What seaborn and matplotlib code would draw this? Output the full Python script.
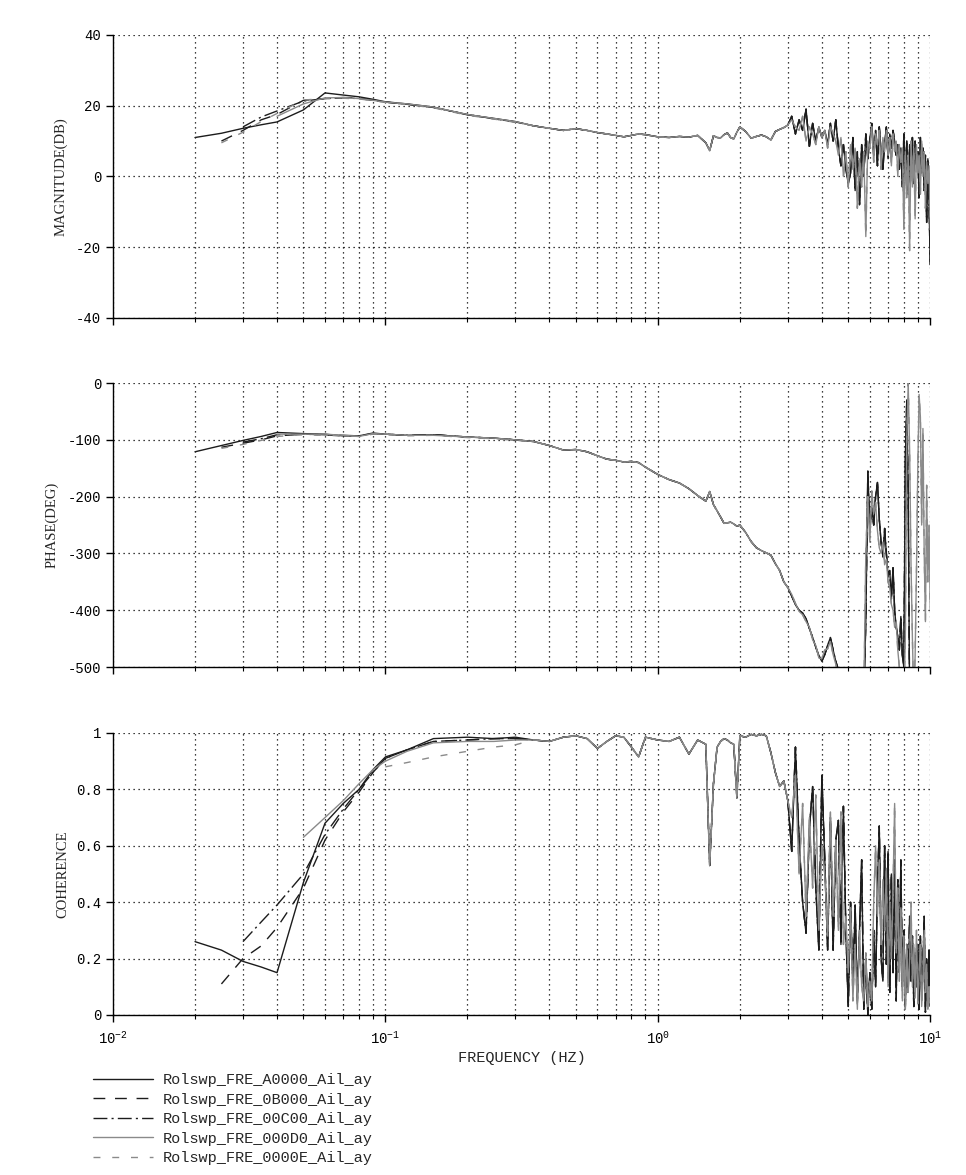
import numpy as np
import pandas as pd
import matplotlib
matplotlib.use('Agg')
import matplotlib.pyplot as plt
from matplotlib.ticker import LogLocator
import seaborn as sns

nan = np.nan

series_names = ['Rolswp_FRE_A0000_Ail_ay', 'Rolswp_FRE_0B000_Ail_ay',
                'Rolswp_FRE_00C00_Ail_ay', 'Rolswp_FRE_000D0_Ail_ay',
                'Rolswp_FRE_0000E_Ail_ay']

# low frequency part, one curve per run
f_lo = [0.02, 0.025, 0.03, 0.035, 0.04, 0.05, 0.06, 0.07, 0.08, 0.09,
        0.1, 0.12, 0.15, 0.2, 0.25, 0.3]

mag_lo_a = [11.0, 12.2, 13.6, 14.6, 15.4, 18.8, 23.6, 23.0, 22.5, 21.8, 21.1, 20.5, 19.6, 17.4, 16.4, 15.5]
mag_lo_b = [nan, 10.0, 13.0, 16.0, 17.5, 21.5, 22.0, 22.3, 22.2, 21.6, 21.0, 20.4, 19.5, 17.5, 16.3, 15.4]
mag_lo_c = [nan, nan, 14.0, 16.8, 18.5, 21.3, 22.0, 22.2, 22.0, 21.5, 21.0, 20.4, 19.5, 17.5, 16.3, 15.4]
mag_lo_d = [nan, nan, nan, nan, 17.0, 20.5, 22.2, 22.3, 22.0, 21.5, 21.0, 20.5, 19.6, 17.5, 16.4, 15.5]
mag_lo_e = [nan, 9.5, 12.5, 15.5, 17.8, 21.6, 22.0, 22.1, 21.9, 21.4, 20.9, 20.3, 19.4, 17.3, 16.2, 15.3]

ph_lo_a = [-121, -110, -101, -94, -87, -89, -90, -93, -93, -88, -90, -92, -91, -95, -97, -100]
ph_lo_b = [nan, -113, -106, -100, -93, -90, -91, -93, -93, -89, -90, -92, -91, -95, -97, -100]
ph_lo_c = [nan, nan, -104, -98, -91, -90, -91, -92, -93, -89, -90, -92, -91, -95, -97, -100]
ph_lo_d = [nan, nan, nan, nan, -90, -90, -90, -92, -94, -89, -90, -92, -92, -95, -97, -100]
ph_lo_e = [nan, -115, -108, -101, -94, -91, -92, -93, -94, -90, -91, -93, -92, -96, -98, -101]

coh_lo_a = [0.26, 0.23, 0.19, 0.17, 0.15, 0.47, 0.68, 0.75, 0.80, 0.87, 0.915, 0.94, 0.98, 0.985, 0.98, 0.985]
coh_lo_b = [nan, 0.11, 0.20, 0.245, 0.31, 0.45, 0.62, 0.72, 0.79, 0.86, 0.91, 0.94, 0.97, 0.975, 0.98, 0.98]
coh_lo_c = [nan, nan, 0.26, 0.33, 0.39, 0.50, 0.64, 0.73, 0.80, 0.86, 0.91, 0.94, 0.97, 0.975, 0.98, 0.98]
coh_lo_d = [nan, nan, nan, nan, nan, 0.63, 0.70, 0.76, 0.82, 0.87, 0.90, 0.935, 0.965, 0.97, 0.97, 0.975]
coh_lo_e = [nan, nan, nan, nan, nan, nan, nan, nan, nan, nan, 0.88, 0.895, 0.915, 0.935, 0.95, 0.958]

# mid band, all runs agree
f_mid = [0.35, 0.4, 0.45, 0.5, 0.55, 0.6, 0.65, 0.7, 0.75, 0.8, 0.85, 0.9, 1.0, 1.1, 1.2,
         1.3, 1.4, 1.5, 1.55, 1.6, 1.65, 1.7, 1.75, 1.8, 1.85, 1.9, 1.95, 2.0, 2.1, 2.2,
         2.3, 2.4, 2.5, 2.6, 2.7, 2.8, 2.9, 3.0]
mag_mid = [14.3, 13.6, 13.0, 13.5, 13.0, 12.4, 12.0, 11.6, 11.2, 11.6, 12.0, 11.8, 11.2, 11.0, 11.3,
           11.1, 11.6, 9.5, 7.3, 11.5, 11.0, 10.9, 11.8, 12.3, 11.0, 10.6, 12.5, 14.0, 12.7, 10.8,
           11.3, 11.7, 11.2, 10.3, 12.7, 13.3, 13.8, 14.5]
ph_mid = [-103, -110, -118, -117, -121, -128, -134, -136, -139, -138, -140, -148, -161, -170, -176,
          -186, -198, -208, -191, -214, -225, -236, -247, -246, -245, -248, -252, -250, -263, -279,
          -290, -295, -299, -303, -318, -330, -350, -360]
coh_mid = [0.975, 0.97, 0.985, 0.99, 0.98, 0.945, 0.97, 0.99, 0.985, 0.95, 0.915, 0.985, 0.975, 0.97, 0.985,
           0.925, 0.975, 0.96, 0.53, 0.82, 0.95, 0.97, 0.98, 0.975, 0.965, 0.96, 0.77, 0.99, 0.985, 0.995,
           0.99, 0.995, 0.99, 0.93, 0.86, 0.81, 0.83, 0.76]

# noisy high band: dark runs (A, B, C) and light runs (D, E)
f_hi = [3.1, 3.2, 3.3, 3.4, 3.5, 3.6, 3.7, 3.8, 3.9, 4.0,
        4.1, 4.2, 4.3, 4.4, 4.5, 4.6, 4.7, 4.8, 4.9, 5.0,
        5.1, 5.2, 5.3, 5.4, 5.5, 5.6, 5.7, 5.8, 5.9, 6.0,
        6.1, 6.2, 6.3, 6.4, 6.5, 6.6, 6.7, 6.8, 6.9, 7.0,
        7.1, 7.2, 7.3, 7.4, 7.5, 7.6, 7.7, 7.8, 7.9, 8.0,
        8.1, 8.2, 8.3, 8.4, 8.5, 8.6, 8.7, 8.8, 8.9, 9.0,
        9.1, 9.2, 9.3, 9.4, 9.5, 9.6, 9.7, 9.8, 9.9, 10.0]

mag_hi_dark = [17, 12, 16, 13, 19, 8.5, 15, 10, 14, 11,
               13, 9, 15, 10, 16, 8, 3, 9, 2, -2,
               1, 11, -4, 7, -8, 9, 0, 12, 5, 10,
               15, 6, 13, 3, 14, 7, 2, 9, 14, 5,
               12, 8, 13, 10, 6, 9, 2, 8, -3, 12,
               0, 10, -5, 9, 2, 11, -2, 10, 3, 7,
               -6, 11, 1, 8, -4, 6, -13, 5, -8, -25]
mag_hi_light = [16, 14, 13, 17, 10, 14, 12, 9, 14, 11,
                13, 8, 14, 12, 10, 6, 11, 0, 7, -3,
                9, 2, 8, -9, 5, -3, 7, -17, 10, 8,
                14, 4, 12, 9, 13, 2, 11, 7, 13, 6,
                11, 3, 12, 7, 10, 0, 9, 4, 8, -15,
                7, -6, 6, -21, 10, -3, 8, -12, 9, 1,
                6, -5, 10, 0, 7, -9, 4, -2, 3, -15]

ph_hi_dark = [-375, -390, -400, -405, -415, -432, -448, -465, -480, -490,
              -478, -462, -448, -470, -490, -505, -560, -560, -560, -560,
              -560, -560, -560, -560, -560, -560, -560, -420, -155, -260,
              -220, -250, -200, -175, -240, -280, -306, -256, -300, -340,
              -330, -380, -325, -400, -430, -446, -470, -411, -480, -500,
              -135, -30, -200, -560, -560, -560, -560, -560, -560, -560,
              -560, -560, -560, -560, -560, -560, -560, -560, -560, -560]
ph_hi_light = [-372, -388, -402, -408, -420, -430, -452, -462, -484, -485,
               -470, -468, -455, -478, -495, -515, -560, -560, -560, -560,
               -560, -560, -560, -560, -560, -560, -560, -300, -200, -280,
               -190, -230, -210, -260, -290, -300, -280, -320, -310, -350,
               -360, -390, -400, -430, -420, -470, -500, -520, -540, -560,
               -450, -100, 0, -120, -320, -450, -560, -480, -330, -150,
               -20, -60, -250, -80, -300, -420, -180, -350, -250, -400]

coh_hi_dark = [0.58, 0.95, 0.62, 0.40, 0.29, 0.66, 0.81, 0.45, 0.23, 0.85,
               0.55, 0.23, 0.70, 0.23, 0.62, 0.69, 0.25, 0.74, 0.30, 0.03,
               0.40, 0.10, 0.39, 0.05, 0.30, 0.55, 0.02, 0.20, 0.00, 0.15,
               0.02, 0.30, 0.10, 0.45, 0.67, 0.20, 0.12, 0.60, 0.18, 0.58,
               0.08, 0.50, 0.15, 0.55, 0.05, 0.48, 0.15, 0.55, 0.10, 0.30,
               0.03, 0.25, 0.08, 0.35, 0.12, 0.28, 0.03, 0.22, 0.10, 0.25,
               0.02, 0.28, 0.08, 0.18, 0.35, 0.01, 0.20, 0.05, 0.23, 0.03]
coh_hi_light = [0.70, 0.85, 0.50, 0.75, 0.35, 0.70, 0.45, 0.78, 0.30, 0.60,
                0.50, 0.28, 0.72, 0.35, 0.62, 0.30, 0.72, 0.25, 0.35, 0.15,
                0.38, 0.05, 0.25, 0.02, 0.30, 0.10, 0.05, 0.22, 0.03, 0.12,
                0.05, 0.40, 0.60, 0.35, 0.55, 0.25, 0.48, 0.30, 0.52, 0.10,
                0.40, 0.20, 0.45, 0.75, 0.22, 0.45, 0.12, 0.38, 0.05, 0.28,
                0.02, 0.25, 0.08, 0.20, 0.40, 0.10, 0.25, 0.06, 0.30, 0.04,
                0.15, 0.25, 0.03, 0.12, 0.30, 0.08, 0.18, 0.02, 0.10, 0.05]

sns.set_style('ticks')
plt.rcParams['font.family'] = ['Liberation Mono', 'DejaVu Sans Mono']
plt.rcParams['mathtext.default'] = 'regular'

mag_lo = [mag_lo_a, mag_lo_b, mag_lo_c, mag_lo_d, mag_lo_e]
ph_lo = [ph_lo_a, ph_lo_b, ph_lo_c, ph_lo_d, ph_lo_e]
coh_lo = [coh_lo_a, coh_lo_b, coh_lo_c, coh_lo_d, coh_lo_e]
dark = [True, True, True, False, False]

frames = []
for i, name in enumerate(series_names):
    frames.append(pd.DataFrame({
        'series': name,
        'freq': f_lo + f_mid + f_hi,
        'mag': mag_lo[i] + mag_mid + (mag_hi_dark if dark[i] else mag_hi_light),
        'phase': ph_lo[i] + ph_mid + (ph_hi_dark if dark[i] else ph_hi_light),
        'coh': coh_lo[i] + coh_mid + (coh_hi_dark if dark[i] else coh_hi_light),
    }))
df = pd.concat(frames, ignore_index=True)

colors = ['#1c1c1c', '#1c1c1c', '#1c1c1c', '#8a8a8a', '#8a8a8a']
styles = ['-', (0, (8.5, 7)), (0, (10, 3, 1.5, 3)), '-', (0, (5, 8.5))]

fig = plt.figure(figsize=(9.66, 11.75), dpi=100)
ax1 = fig.add_axes([0.117, 0.7294, 0.846, 0.2409])
ax2 = fig.add_axes([0.117, 0.4323, 0.846, 0.2417])
ax3 = fig.add_axes([0.117, 0.1362, 0.846, 0.2400])

panels = [(ax1, 'mag', 'MAGNITUDE(DB)', -0.056, (-40, 40), [-40, -20, 0, 20, 40],
           ['-40', '-20', '0', '20', '40']),
          (ax2, 'phase', 'PHASE(DEG)', -0.067, (-500, 0), [-500, -400, -300, -200, -100, 0],
           ['-500', '-400', '-300', '-200', '-100', '0']),
          (ax3, 'coh', 'COHERENCE', -0.053, (0, 1), [0, 0.2, 0.4, 0.6, 0.8, 1],
           ['0', '0.2', '0.4', '0.6', '0.8', '1'])]

grid_ls = (0, (1, 3))
for ax, col, ylab, lab_x, ylim, yt, ytl in panels:
    ax.set_xscale('log')
    for i, name in enumerate(series_names):
        sub = df[df['series'] == name]
        sns.lineplot(data=sub, x='freq', y=col, color=colors[i], linestyle=styles[i],
                     linewidth=1.0, estimator=None, sort=False, ax=ax, label=name, legend=False)
    if ax.get_legend() is not None:
        ax.get_legend().remove()
    ax.set_xlim(0.01, 10)
    ax.set_ylim(*ylim)
    ax.set_yticks(yt)
    ax.set_yticklabels(ytl, fontsize=10)
    ax.xaxis.set_major_locator(LogLocator(base=10))
    ax.xaxis.set_minor_locator(LogLocator(base=10, subs=range(2, 10)))
    ax.grid(True, which='both', axis='x', color='black', linestyle=grid_ls, linewidth=0.9)
    ax.grid(True, which='major', axis='y', color='black', linestyle=grid_ls, linewidth=0.9)
    ax.tick_params(which='major', direction='out', length=5, width=1, colors='black')
    ax.tick_params(which='minor', direction='out', length=3, width=0.8, colors='black')
    sns.despine(ax=ax)
    for s in ['left', 'bottom']:
        ax.spines[s].set_color('black')
        ax.spines[s].set_linewidth(1.0)
    ax.set_ylabel(ylab, family='Liberation Serif', fontsize=10.5)
    ax.yaxis.set_label_coords(lab_x, 0.5)
    ax.set_xlabel('')
    if ax is not ax3:
        ax.tick_params(axis='x', which='both', labelbottom=False)

ax3.tick_params(axis='x', which='major', labelsize=10, pad=6)
ax3.set_xlabel('FREQUENCY (HZ)', fontsize=11, labelpad=3)

handles, labels = ax1.get_legend_handles_labels()
fig.legend(handles, labels, loc='upper left', bbox_to_anchor=(0.0963, 0.0868),
           frameon=False, fontsize=11, handlelength=3.9, handletextpad=0.65,
           labelspacing=0.36, borderpad=0, borderaxespad=0)

fig.savefig('out.png', dpi=100, facecolor='white')
